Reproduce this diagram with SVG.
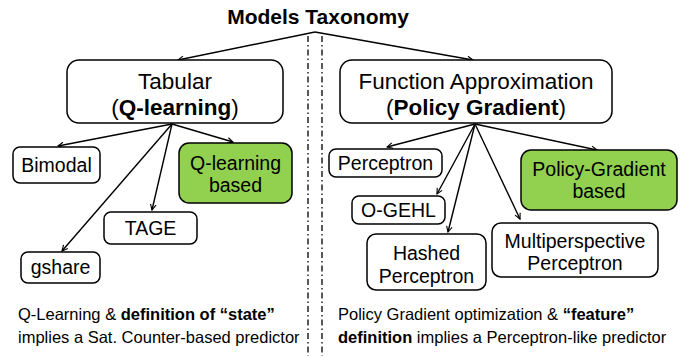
<svg xmlns="http://www.w3.org/2000/svg" width="694" height="356" viewBox="0 0 694 356">
<defs>
<style>
text{font-family:"Liberation Sans",Arial,sans-serif;fill:#000}
.box{fill:#fff;stroke:#000;stroke-width:1.5}
.green{fill:#92D050;stroke:#000;stroke-width:1.5}
.big{font-size:22.5px}
.node{font-size:19.5px}
.note{font-size:16.5px}
.b{font-weight:bold}
.c{stroke:#000;stroke-width:1.4;fill:none;marker-end:url(#ah)}
.sep{stroke:#000;stroke-width:1.3;stroke-dasharray:6 3 1.5 3;fill:none}
</style>
<marker id="ah" viewBox="0 0 10 10" refX="9" refY="5" markerWidth="7" markerHeight="7" markerUnits="userSpaceOnUse" orient="auto">
<path d="M1,1 L9,5 L1,9" fill="none" stroke="#000" stroke-width="1.6"/>
</marker>
</defs>
<rect width="694" height="356" fill="#fff"/>

<g id="separators">
<line class="sep" x1="308" y1="36" x2="308" y2="356"/>
<line class="sep" x1="322" y1="36" x2="322" y2="356"/>
</g>

<g id="title">
<text x="318" y="24" text-anchor="middle" font-size="21" class="b">Models Taxonomy</text>
</g>

<g id="connectors">
<line class="c" x1="315" y1="32" x2="178" y2="60"/>
<line class="c" x1="315" y1="32" x2="473" y2="60"/>
<line class="c" x1="172" y1="124" x2="58" y2="146"/>
<line class="c" x1="172" y1="124" x2="233" y2="142"/>
<line class="c" x1="172" y1="124" x2="152" y2="210"/>
<line class="c" x1="172" y1="124" x2="62" y2="251"/>
<line class="c" x1="475" y1="124" x2="387" y2="147"/>
<line class="c" x1="475" y1="124" x2="437" y2="194"/>
<line class="c" x1="475" y1="124" x2="448" y2="232"/>
<line class="c" x1="475" y1="124" x2="520" y2="219"/>
<line class="c" x1="475" y1="124" x2="597" y2="150"/>
</g>

<g id="tabular">
<rect class="box" x="67" y="60" width="216" height="63" rx="12"/>
<text class="big" x="175" y="89" text-anchor="middle">Tabular</text>
<text class="big" x="175" y="115" text-anchor="middle">(<tspan class="b">Q-learning</tspan>)</text>
</g>

<g id="function-approximation">
<rect class="box" x="340" y="60" width="272" height="63" rx="12"/>
<text class="big" x="476" y="89" text-anchor="middle">Function Approximation</text>
<text class="big" x="476" y="115" text-anchor="middle">(<tspan class="b">Policy Gradient</tspan>)</text>
</g>

<g id="bimodal">
<rect class="box" x="13" y="147" width="87" height="36" rx="7"/>
<text class="node" x="56.5" y="171.5" text-anchor="middle">Bimodal</text>
</g>

<g id="q-learning-based">
<rect class="green" x="179" y="143" width="113" height="60" rx="10"/>
<text class="node" x="235.5" y="170" text-anchor="middle">Q-learning</text>
<text class="node" x="235.5" y="192" text-anchor="middle">based</text>
</g>

<g id="tage">
<rect class="box" x="104" y="212" width="93" height="32" rx="7"/>
<text class="node" x="150.5" y="235" text-anchor="middle">TAGE</text>
</g>

<g id="gshare">
<rect class="box" x="21" y="252" width="79" height="31" rx="7"/>
<text class="node" x="60.5" y="274" text-anchor="middle">gshare</text>
</g>

<g id="perceptron">
<rect class="box" x="329" y="149" width="113" height="28" rx="7"/>
<text class="node" x="385.5" y="170" text-anchor="middle">Perceptron</text>
</g>

<g id="o-gehl">
<rect class="box" x="352" y="196" width="93" height="28" rx="7"/>
<text class="node" x="398.5" y="217" text-anchor="middle">O-GEHL</text>
</g>

<g id="hashed-perceptron">
<rect class="box" x="367" y="234" width="119" height="56" rx="9"/>
<text class="node" x="426.5" y="260" text-anchor="middle">Hashed</text>
<text class="node" x="426.5" y="283" text-anchor="middle">Perceptron</text>
</g>

<g id="multiperspective-perceptron">
<rect class="box" x="492" y="223" width="166" height="54" rx="9"/>
<text class="node" x="575" y="248" text-anchor="middle">Multiperspective</text>
<text class="node" x="575" y="270" text-anchor="middle">Perceptron</text>
</g>

<g id="policy-gradient-based">
<rect class="green" x="521" y="150" width="156" height="60" rx="10"/>
<text class="node" x="599" y="176" text-anchor="middle">Policy-Gradient</text>
<text class="node" x="599" y="198" text-anchor="middle">based</text>
</g>

<g id="notes">
<text class="note" x="18" y="320">Q-Learning &amp; <tspan class="b">definition of “state”</tspan></text>
<text class="note" x="18" y="343">implies a Sat. Counter-based predictor</text>
<text class="note" x="338" y="320">Policy Gradient optimization &amp; <tspan class="b">“feature”</tspan></text>
<text class="note" x="338" y="343"><tspan class="b">definition</tspan> implies a Perceptron-like predictor</text>
</g>
</svg>
